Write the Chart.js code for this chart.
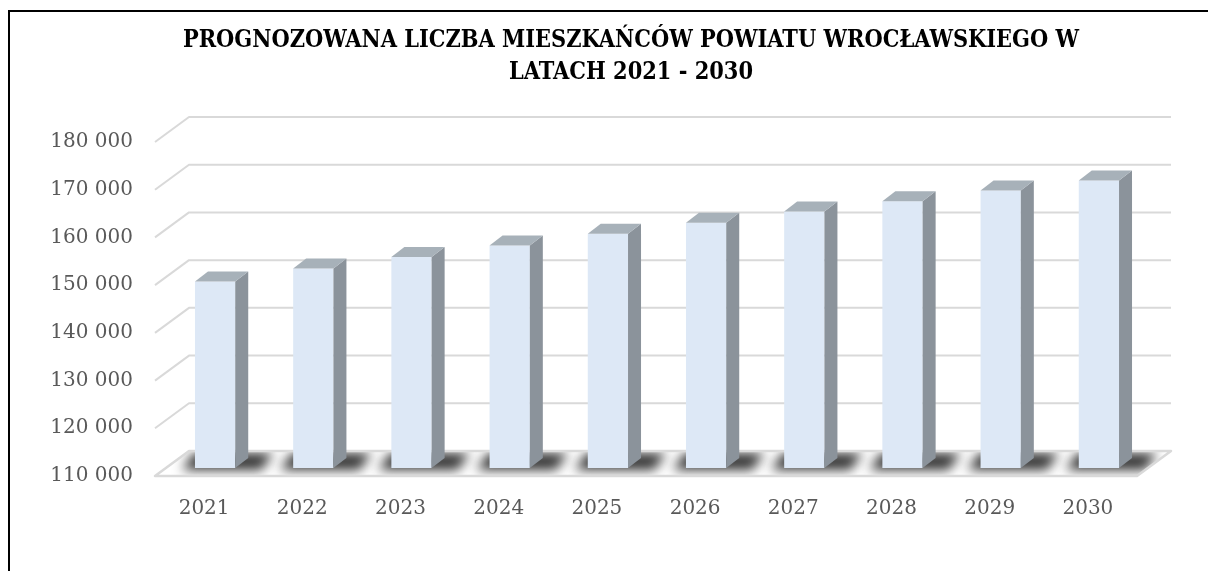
<!DOCTYPE html>
<html>
<head>
<meta charset="utf-8">
<script src="https://cdn.jsdelivr.net/npm/chart.js@4.4.1/dist/chart.umd.min.js"></script>
<style>
  html, body { margin: 0; padding: 0; background: #ffffff; overflow: hidden; }
  #wrap { position: relative; width: 1208px; height: 571px; }
</style>
</head>
<body>
<div id="wrap"><canvas id="chart" width="1208" height="571"></canvas></div>
<script>
// ---- data ----
const categories = ['2021', '2022', '2023', '2024', '2025', '2026', '2027', '2028', '2029', '2030'];
const populationValues = [149100, 151800, 154200, 156650, 159100, 161400, 163770, 165900, 168150, 170250];
const yTickValues = [110000, 120000, 130000, 140000, 150000, 160000, 170000, 180000];
const titleLines = ['PROGNOZOWANA LICZBA MIESZKAŃCÓW POWIATU WROCŁAWSKIEGO W', 'LATACH 2021 - 2030'];

// ---- styling / 3D geometry ----
const FLOOR_DX = 34, FLOOR_DY = -25;     // full depth of the 3D box
const BAR_DX = 11, BAR_DY = -8;          // depth position of the bar front faces
const SIDE_DX = 13, SIDE_DY = -10;       // depth of each column
const GRID_COLOR = '#d9d9d9';
const LABEL_COLOR = '#595959';
const TITLE_FAMILY = "'DejaVu Serif Condensed', 'DejaVu Serif', serif";
const LABEL_FAMILY = "'DejaVu Serif', serif";

function fmt(v) {
  return String(Math.round(v)).replace(/\B(?=(\d{3})+(?!\d))/g, ' ');
}

// fit title font so the first line spans about the same width as in the reference
function fitTitleSize(target) {
  const c = document.createElement('canvas').getContext('2d');
  c.font = "bold 100px " + TITLE_FAMILY;
  const w = c.measureText(titleLines[0]).width;
  return Math.round(100 * target / w * 10) / 10;
}
const titleSize = fitTitleSize(897);

const threeD = {
  id: 'threeD',
  beforeDraw(chart) {
    const ctx = chart.ctx;
    ctx.save();
    ctx.fillStyle = '#ffffff';
    ctx.fillRect(0, 0, chart.width, chart.height);
    // outer frame (left and top edges visible)
    ctx.strokeStyle = '#000000';
    ctx.lineWidth = 2;
    ctx.beginPath();
    ctx.moveTo(9, chart.height);
    ctx.lineTo(9, 11);
    ctx.lineTo(chart.width, 11);
    ctx.stroke();
    ctx.restore();
  },
  afterLayout(chart) {
    if (chart.titleBlock) {
      chart.titleBlock.left = 54;
      chart.titleBlock.right = 1208;
    }
  },
  beforeDatasetsDraw(chart) {
    const ctx = chart.ctx;
    const ys = chart.scales.y;
    const { left, right, bottom } = chart.chartArea;
    ctx.save();
    // back wall + side wall gridlines
    ctx.strokeStyle = GRID_COLOR;
    ctx.lineWidth = 2;
    ctx.lineJoin = 'round';
    yTickValues.forEach(v => {
      if (v === ys.min) return;
      const py = ys.getPixelForValue(v);
      ctx.beginPath();
      ctx.moveTo(left, py);
      ctx.lineTo(left + FLOOR_DX, py + FLOOR_DY);
      ctx.lineTo(right + FLOOR_DX, py + FLOOR_DY);
      ctx.stroke();
    });
    // floor
    const floor = new Path2D();
    floor.moveTo(left, bottom);
    floor.lineTo(left + FLOOR_DX, bottom + FLOOR_DY);
    floor.lineTo(right + FLOOR_DX, bottom + FLOOR_DY);
    floor.lineTo(right, bottom);
    floor.closePath();
    ctx.fillStyle = '#ffffff';
    ctx.fill(floor);
    // soft shadows of the columns on the floor
    ctx.save();
    ctx.clip(floor);
    ctx.filter = 'blur(6px)';
    ctx.fillStyle = 'rgba(15,15,15,0.85)';
    const meta = chart.getDatasetMeta(0);
    meta.data.forEach(el => {
      const x0 = el.x - el.width / 2 + BAR_DX - 13;
      const x1 = el.x + el.width / 2 + BAR_DX + SIDE_DX + 13;
      const yf = bottom - 6, yb = bottom - 23;
      const sb = 12;
      ctx.beginPath();
      ctx.moveTo(x0, yf);
      ctx.lineTo(x0 + sb, yb);
      ctx.lineTo(x1 + sb, yb);
      ctx.lineTo(x1, yf);
      ctx.closePath();
      ctx.fill();
    });
    ctx.restore();
    ctx.strokeStyle = GRID_COLOR;
    ctx.lineWidth = 2.5;
    ctx.stroke(floor);
    ctx.restore();
    // move the columns into the depth of the box
    ctx.save();
    ctx.translate(BAR_DX, BAR_DY);
  },
  afterDatasetsDraw(chart) {
    const ctx = chart.ctx;
    const ys = chart.scales.y;
    const baseY = ys.getPixelForValue(ys.min);
    const meta = chart.getDatasetMeta(0);
    meta.data.forEach(el => {
      const x0 = el.x - el.width / 2, x1 = el.x + el.width / 2;
      const yt = el.y, yb = Math.min(el.base, baseY);
      // right side face
      ctx.fillStyle = '#8b939b';
      ctx.beginPath();
      ctx.moveTo(x1, yt);
      ctx.lineTo(x1 + SIDE_DX, yt + SIDE_DY);
      ctx.lineTo(x1 + SIDE_DX, yb + SIDE_DY);
      ctx.lineTo(x1, yb);
      ctx.closePath();
      ctx.fill();
      // top face
      ctx.fillStyle = '#a7b1b9';
      ctx.beginPath();
      ctx.moveTo(x0, yt);
      ctx.lineTo(x0 + SIDE_DX, yt + SIDE_DY);
      ctx.lineTo(x1 + SIDE_DX, yt + SIDE_DY);
      ctx.lineTo(x1, yt);
      ctx.closePath();
      ctx.fill();
    });
    ctx.restore();
  }
};

new Chart(document.getElementById('chart'), {
  type: 'bar',
  data: {
    labels: categories,
    datasets: [{
      data: populationValues,
      backgroundColor: '#dde8f6',
      borderWidth: 0,
      categoryPercentage: 1.0,
      barPercentage: 0.41
    }]
  },
  options: {
    responsive: false,
    animation: false,
    devicePixelRatio: 1,
    layout: { padding: { left: 0, right: 71, top: 0, bottom: 0 } },
    plugins: {
      legend: { display: false },
      tooltip: { enabled: false },
      title: {
        display: true,
        text: titleLines,
        color: '#000000',
        font: { family: TITLE_FAMILY, size: titleSize, weight: 'bold', lineHeight: 32 / titleSize },
        padding: { top: 25, bottom: 53 }
      }
    },
    scales: {
      x: {
        grid: { display: false, drawTicks: false },
        border: { display: false },
        ticks: { color: LABEL_COLOR, font: { family: LABEL_FAMILY, size: 20 }, padding: 21 },
        afterFit(s) { s.height = 95; }
      },
      y: {
        min: 110000,
        max: 180000,
        afterBuildTicks(s) { s.ticks = yTickValues.map(v => ({ value: v })); },
        grid: { display: false, drawTicks: false },
        border: { display: false },
        ticks: { color: LABEL_COLOR, font: { family: LABEL_FAMILY, size: 20 }, padding: 22, callback: v => fmt(v) },
        afterFit(s) { s.width = 155; }
      }
    }
  },
  plugins: [threeD]
});
</script>
</body>
</html>
